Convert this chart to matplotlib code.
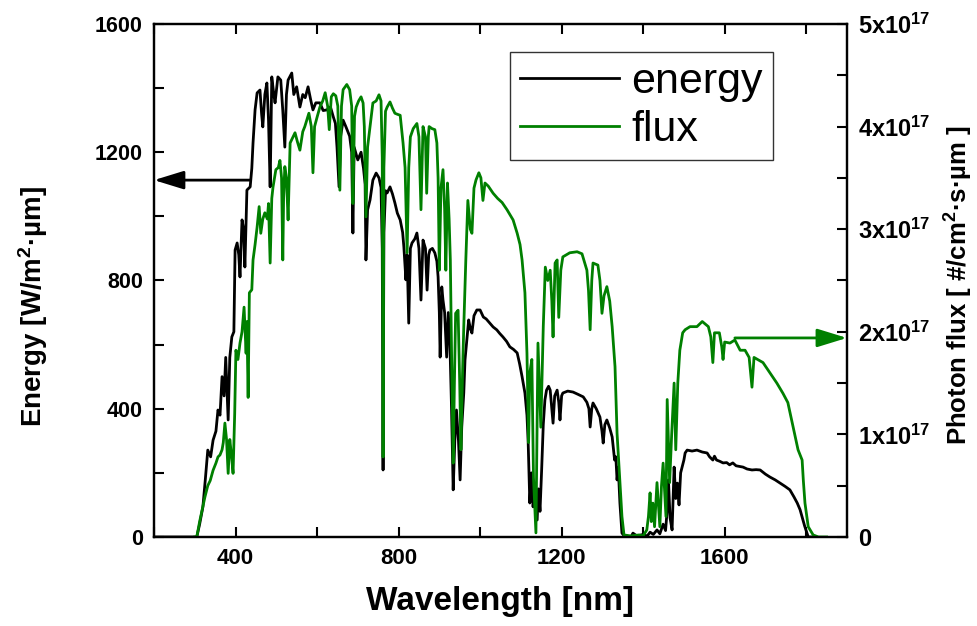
import matplotlib
matplotlib.use('Agg')
import matplotlib.pyplot as plt
from matplotlib.ticker import MultipleLocator

plt.rcParams['font.family'] = ['Liberation Sans', 'DejaVu Sans']
plt.rcParams['mathtext.fontset'] = 'custom'
plt.rcParams['mathtext.rm'] = 'Liberation Sans:bold'
plt.rcParams['mathtext.bf'] = 'Liberation Sans:bold'
plt.rcParams['mathtext.default'] = 'bf'

# energy spectrum [W/m2.um]
wl_energy = [200, 300, 305, 312, 320, 326, 332, 339, 345, 352, 357, 362, 367, 372, 376, 382, 386, 391,
             396, 399, 404, 408, 411, 416, 420, 423, 428, 436, 440, 443, 448, 453, 460, 464, 467, 472,
             477, 481, 485, 489, 494, 497, 504, 511, 516, 521, 525, 529, 538, 543, 550, 558, 565, 571,
             578, 585, 590, 597, 607, 615, 624, 633, 640, 645, 649, 654, 658, 664, 671, 680, 685, 688,
             691, 700, 708, 714, 718, 720, 724, 730, 737, 745, 752, 757, 760, 762, 764, 768, 772, 779,
             785, 791, 797, 804, 810, 813, 818, 821, 825, 829, 833, 840, 845, 850, 855, 860, 866, 870,
             874, 877, 883, 889, 894, 897, 900, 902, 906, 909, 913, 918, 922, 926, 930, 934, 938, 942,
             947, 951, 955, 960, 963, 968, 972, 976, 980, 985, 992, 1000, 1008, 1015, 1024, 1032, 1041,
             1048, 1056, 1065, 1073, 1082, 1091, 1097, 1103, 1110, 1115, 1118, 1122, 1126, 1130, 1134,
             1140, 1143, 1147, 1151, 1155, 1159, 1163, 1168, 1172, 1176, 1179, 1183, 1189, 1193, 1196,
             1200, 1203, 1215, 1228, 1240, 1253, 1262, 1267, 1270, 1274, 1277, 1285, 1294, 1299, 1302,
             1306, 1311, 1318, 1324, 1330, 1333, 1336, 1339, 1343, 1348, 1356, 1370, 1375, 1385, 1400,
             1410, 1417, 1425, 1434, 1441, 1449, 1455, 1459, 1462, 1466, 1471, 1476, 1480, 1484, 1488,
             1492, 1500, 1503, 1508, 1520, 1532, 1545, 1557, 1563, 1571, 1575, 1580, 1588, 1596, 1605,
             1612, 1620, 1628, 1636, 1645, 1655, 1667, 1677, 1687, 1700, 1711, 1724, 1736, 1748, 1760,
             1770, 1778, 1785, 1790, 1796, 1802, 1805, 1812]
energy = [0, 0, 0, 40, 94, 180, 271, 250, 302, 330, 396, 380, 500, 440, 560, 365, 560, 624,
          640, 895, 917, 880, 811, 989, 960, 842, 1082, 1092, 1150, 1229, 1332, 1385, 1394, 1320, 1279, 1380,
          1416, 1300, 1092, 1435, 1380, 1354, 1435, 1425, 1330, 1216, 1380, 1425, 1447, 1380, 1404, 1341, 1380, 1370,
          1404, 1360, 1332, 1354, 1354, 1330, 1332, 1341, 1310, 1290, 1216, 1092, 1250, 1300, 1279, 1250, 1200, 948,
          1216, 1176, 1200, 1150, 1100, 864, 1020, 1051, 1113, 1135, 1120, 1090, 900, 209, 950, 1080, 1073, 1092,
          1070, 1042, 1010, 989, 950, 905, 802, 880, 667, 900, 917, 930, 948, 900, 739, 926, 900, 770,
          880, 895, 900, 886, 860, 811, 700, 561, 780, 739, 700, 561, 700, 600, 400, 147, 300, 396,
          300, 178, 343, 450, 552, 620, 677, 650, 636, 690, 708, 708, 686, 680, 667, 655, 646,
          635, 624, 610, 593, 585, 574, 540, 500, 449, 380, 293, 106, 200, 94, 150,
          53, 150, 80, 209, 350, 427, 458, 470, 458, 400, 355, 440, 458, 420, 365,
          440, 449, 455, 452, 445, 437, 420, 400, 343, 400, 418, 400, 374, 330, 293,
          350, 365, 340, 312, 240, 250, 178, 218, 106, 12, 0, 0, 12, 3, 8,
          3, 15, 8, 22, 10, 40, 20, 84, 178, 60, 22, 218, 120, 168, 100,
          200, 240, 262, 271, 268, 271, 265, 262, 250, 240, 252, 240, 236, 231, 232,
          225, 231, 222, 220, 218, 212, 209, 210, 209, 196, 187, 178, 168, 158, 147,
          125, 106, 85, 62, 35, 12, 0, 0]

# photon flux [1e17 #/cm2.s.um]
wl_flux = [300, 305, 312, 320, 325, 332, 338, 345, 352, 357, 362, 367, 370, 374, 378, 382, 386, 390,
           394, 398, 401, 406, 411, 416, 421, 426, 428, 431, 434, 440, 443, 448, 453, 458, 462, 467,
           472, 478, 481, 485, 489, 492, 499, 505, 509, 513, 516, 518, 521, 525, 529, 534, 546, 552,
           558, 565, 570, 580, 586, 590, 594, 600, 607, 614, 620, 626, 630, 635, 640, 646, 651, 656,
           660, 664, 673, 680, 685, 688, 692, 696, 702, 708, 713, 716, 720, 724, 730, 737, 745, 752,
           757, 760, 762, 764, 768, 772, 779, 785, 791, 797, 804, 811, 816, 821, 825, 829, 836, 845,
           850, 855, 860, 866, 869, 873, 875, 882, 889, 894, 897, 900, 904, 909, 913, 916, 920, 924,
           927, 930, 934, 937, 940, 946, 950, 953, 957, 960, 965, 970, 976, 980, 985, 990, 997, 1002,
           1007, 1012, 1020, 1032, 1043, 1054, 1066, 1081, 1091, 1098, 1103, 1110, 1115, 1119, 1122,
           1127, 1131, 1137, 1142, 1149, 1155, 1160, 1166, 1172, 1176, 1179, 1184, 1189, 1193, 1198,
           1203, 1220, 1238, 1250, 1262, 1266, 1270, 1274, 1277, 1289, 1294, 1299, 1304, 1311, 1318,
           1324, 1331, 1336, 1343, 1348, 1353, 1370, 1390, 1400, 1409, 1413, 1417, 1420, 1424, 1428,
           1434, 1441, 1445, 1449, 1456, 1459, 1465, 1470, 1476, 1480, 1485, 1490, 1497, 1503, 1515,
           1532, 1545, 1560, 1566, 1571, 1575, 1587, 1593, 1596, 1600, 1613, 1625, 1638, 1650, 1660,
           1667, 1672, 1685, 1694, 1711, 1728, 1743, 1755, 1768, 1780, 1790, 1793, 1797, 1805, 1817,
           1830, 1850]
flux = [0, 0, 0.15, 0.30, 0.39, 0.50, 0.55, 0.65, 0.72, 0.78, 0.80, 0.85, 0.92, 1.11, 0.95, 0.62, 0.95, 0.80,
        0.62, 1.20, 1.82, 1.73, 1.89, 2.00, 2.24, 1.79, 2.10, 1.36, 2.38, 2.41, 2.70, 2.85, 3.02, 3.22, 2.96, 3.10,
        3.16, 3.10, 3.25, 2.67, 3.30, 3.41, 3.58, 3.60, 3.67, 3.50, 2.70, 3.30, 3.61, 3.50, 3.09, 3.84, 3.94, 3.85,
        3.77, 3.95, 4.00, 4.13, 4.00, 3.55, 4.00, 4.09, 4.19, 4.25, 4.33, 4.20, 3.97, 4.29, 4.32, 4.30, 4.20, 3.38,
        4.20, 4.36, 4.41, 4.36, 4.20, 3.25, 4.10, 4.19, 4.25, 4.29, 4.23, 4.00, 3.12, 3.80, 4.00, 4.23, 4.25, 4.31,
        4.25, 3.70, 0.78, 3.60, 4.15, 4.19, 4.24, 4.18, 4.13, 4.12, 4.11, 3.84, 3.60, 2.77, 3.60, 3.90, 3.98, 4.03,
        3.90, 3.19, 4.00, 3.90, 3.35, 3.90, 4.00, 3.98, 3.97, 3.84, 3.50, 2.60, 3.40, 3.58, 3.20, 2.60, 3.45, 3.10,
        2.70, 1.80, 0.72, 1.50, 2.18, 2.21, 1.50, 0.85, 1.60, 2.05, 2.70, 3.28, 3.00, 2.96, 3.40, 3.48, 3.55, 3.50,
        3.28, 3.45, 3.42, 3.35, 3.30, 3.26, 3.19, 3.09, 2.96, 2.85, 2.70, 2.38, 1.79, 0.92, 1.60,
        1.73, 0.58, 0.04, 1.89, 1.07, 2.05, 2.63, 2.50, 2.60, 2.30, 1.95, 2.67, 2.70, 2.14, 2.60,
        2.73, 2.77, 2.78, 2.76, 2.60, 2.40, 2.02, 2.50, 2.67, 2.65, 2.50, 2.18, 2.35, 2.44, 2.30,
        2.05, 1.66, 1.01, 0.53, 0.20, 0.02, 0.01, 0.02, 0.01, 0.07, 0.20, 0.43, 0.15, 0.33, 0.10,
        0.53, 0.10, 0.50, 0.72, 0.20, 1.34, 0.53, 1.00, 1.50, 0.85, 1.50, 1.82, 1.99, 2.02, 2.05,
        2.05, 2.10, 2.05, 1.95, 1.70, 1.99, 1.99, 1.85, 1.73, 1.90, 1.89, 1.92, 1.82, 1.82, 1.75,
        1.46, 1.75, 1.72, 1.70, 1.60, 1.50, 1.40, 1.31, 1.07, 0.85, 0.75, 0.55, 0.33, 0.10, 0.02,
        0, 0]

flux_ticks = [0, 1, 2, 3, 4, 5]
flux_ticklabels = ['0', '1x10$^{17}$', '2x10$^{17}$', '3x10$^{17}$', '4x10$^{17}$', '5x10$^{17}$']

fig = plt.figure(figsize=(9.77, 6.26), dpi=100)
ax = fig.add_axes([0.1576, 0.1422, 0.7093, 0.8195])
ax2 = ax.twinx()

ax.plot(wl_energy, energy, color='black', lw=2.0, label='energy')
ax2.plot(wl_flux, flux, color='#008000', lw=2.0, label='flux')

ax.set_xlim(200, 1900)
ax.set_ylim(0, 1600)
ax2.set_ylim(0, 5)

ax.xaxis.set_major_locator(MultipleLocator(400))
ax.xaxis.set_minor_locator(MultipleLocator(200))
ax.yaxis.set_major_locator(MultipleLocator(400))
ax.yaxis.set_minor_locator(MultipleLocator(200))
ax2.set_yticks(flux_ticks)
ax2.set_yticklabels(flux_ticklabels)
ax2.yaxis.set_minor_locator(MultipleLocator(0.5))

for a in (ax, ax2):
    for s in a.spines.values():
        s.set_linewidth(1.6)
ax.tick_params(which='both', direction='in', length=7, width=1.5, top=True, pad=8)
ax.tick_params(axis='x', labelsize=16)
ax.tick_params(axis='y', labelsize=15.5)
ax2.tick_params(which='both', direction='in', length=7, width=1.5, labelsize=17, pad=8)
for lab in ax.get_xticklabels() + ax.get_yticklabels() + ax2.get_yticklabels():
    lab.set_fontweight('bold')

ax.set_xlabel('Wavelength [nm]', fontsize=24, fontweight='bold', labelpad=12)
ax.set_ylabel('Energy [W/m$^2$·µm]', fontsize=20, fontweight='bold')
ax.yaxis.set_label_coords(-0.150, 0.45)
ax2.set_ylabel('Photon flux [ #/cm$^2$·s·µm ]', fontsize=18.5, fontweight='bold')
ax2.yaxis.set_label_coords(1.138, 0.49)

# arrows pointing at the matching axis
ax.annotate('', xy=(200, 1113), xytext=(437, 1113),
            arrowprops=dict(arrowstyle='-|>,head_length=1.3,head_width=0.4', color='black',
                            lw=2, shrinkA=0, shrinkB=0, mutation_scale=14), annotation_clip=False)
ax2.annotate('', xy=(1900, 1.94), xytext=(1625, 1.94),
             arrowprops=dict(arrowstyle='-|>,head_length=1.3,head_width=0.4', color='#008000',
                             lw=2, shrinkA=0, shrinkB=0, mutation_scale=14), annotation_clip=False)

h1, l1 = ax.get_legend_handles_labels()
h2, l2 = ax2.get_legend_handles_labels()
leg = ax2.legend(h1 + h2, l1 + l2, loc='upper left', bbox_to_anchor=(0.514, 0.945),
                 fontsize=31, frameon=True, fancybox=False, handlelength=2.3,
                 handletextpad=0.3, labelspacing=0.2, borderpad=0.22, borderaxespad=0)
leg.get_frame().set_edgecolor('black')
leg.get_frame().set_linewidth(1.0)

fig.savefig('out.png', dpi=100)
